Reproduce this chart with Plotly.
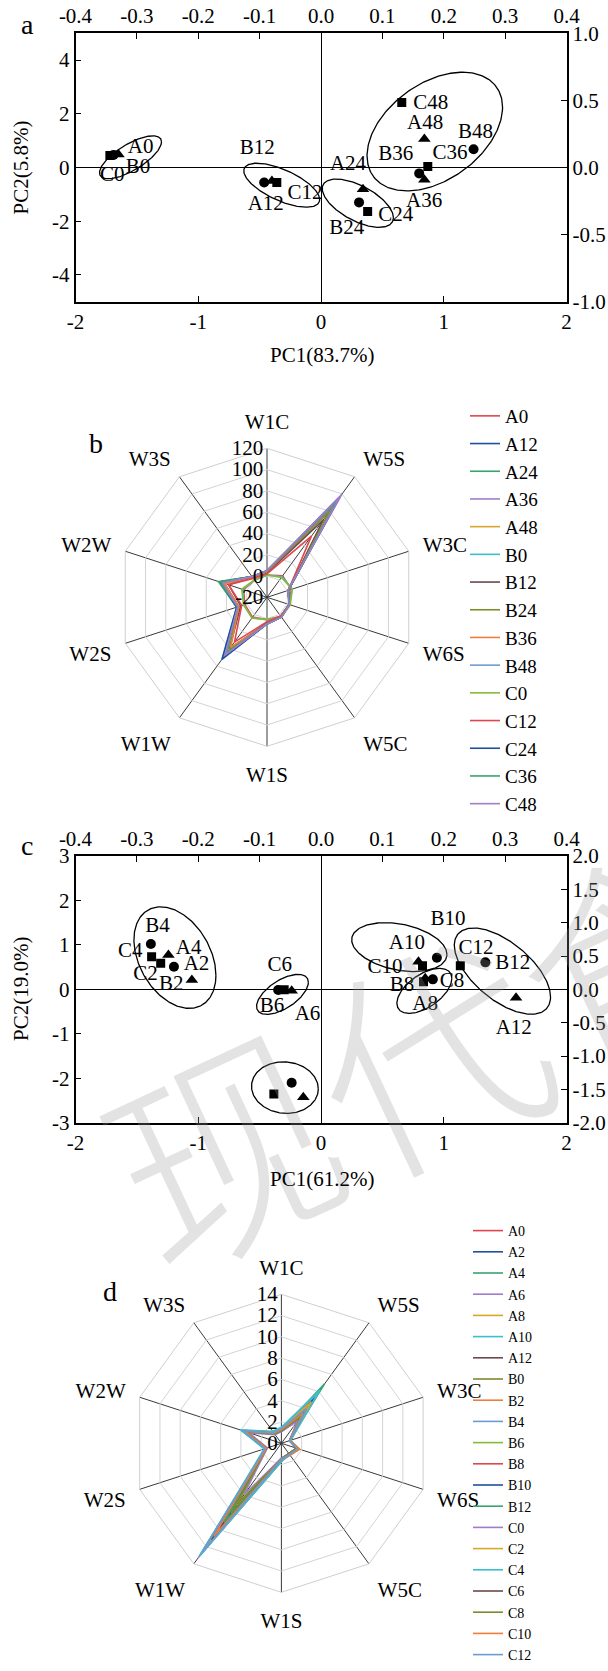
import numpy as np
import plotly.graph_objects as go

FONT = "Liberation Serif, Times New Roman, Times, serif"
W, H = 608, 1671

# ---------------- panel a : PCA scores ----------------
a_names = ["A0", "B0", "C0", "A12", "B12", "C12", "A24", "B24", "C24",
           "A36", "B36", "C36", "A48", "B48", "C48"]
a_pc1 = [-1.65, -1.69, -1.72, -0.40, -0.463, -0.36, 0.342, 0.31, 0.38,
         0.842, 0.80, 0.87, 0.842, 1.243, 0.658]
a_pc2 = [0.48, 0.47, 0.45, -0.50, -0.56, -0.56, -0.81, -1.30, -1.64,
         -0.46, -0.22, 0.04, 1.06, 0.68, 2.42]
a_label_text = a_names
a_label_x = [-1.47, -1.49, -1.70, -0.45, -0.52, -0.13, 0.22, 0.21, 0.61,
             0.84, 0.61, 1.05, 0.848, 1.258, 0.895]
a_label_y = [0.75, 0.0, -0.31, -1.39, 0.68, -0.97, 0.12, -2.30, -1.80,
             -1.28, 0.46, 0.50, 1.64, 1.30, 2.36]
a_ell_cx = [-1.552, -0.32, 0.30, 0.927]
a_ell_cy = [0.38, -0.66, -1.33, 1.34]
a_ell_rx = [0.2526, 0.309, 0.29, 0.552]
a_ell_ry = [0.80, 0.82, 0.90, 2.21]
a_ell_rho = [0.72, -0.65, -0.60, 0.41]

a_x_ticks = [-2, -1, 0, 1, 2]
a_x_ticktext = ["-2", "-1", "0", "1", "2"]
a_y_ticks = [-4, -2, 0, 2, 4]
a_y_ticktext = ["-4", "-2", "0", "2", "4"]
top_ticks = [-0.4, -0.3, -0.2, -0.1, 0.0, 0.1, 0.2, 0.3, 0.4]
top_ticktext = ["-0.4", "-0.3", "-0.2", "-0.1", "0.0", "0.1", "0.2", "0.3", "0.4"]
a_right_ticks = [-1.0, -0.5, 0.0, 0.5, 1.0]
a_right_ticktext = ["-1.0", "-0.5", "0.0", "0.5", "1.0"]

# ---------------- panel b : radar ----------------
sensors = ["W1C", "W5S", "W3C", "W6S", "W5C", "W1S", "W1W", "W2S", "W2W", "W3S"]
b_A0 = [1, 5, 4, 2, 2, 1, 3, 2, 3, 0]
b_A12 = [3, 85, 1, 2, 2, 4, 50, 8, 22, 3]
b_A24 = [4, 90, 1, 2, 2, 5, 45, 10, 28, 4]
b_A36 = [5, 100, 0.5, 2, 3, 5, 48, 9, 24, 4]
b_A48 = [5, 93, 1, 2, 3, 5, 45, 9, 22, 4]
b_B0 = [1, 4, 5, 2, 3, 1, 4, 3, 4, 0]
b_B12 = [3, 70, 1, 2, 2, 4, 40, 6, 18, 3]
b_B24 = [4, 80, 1, 2, 2, 5, 40, 8, 25, 4]
b_B36 = [4, 88, 1, 2, 2, 5, 38, 8, 22, 3]
b_B48 = [5, 90, 1, 2, 3, 5, 50, 10, 26, 4]
b_C0 = [1, 3, 5, 3, 3, 1, 4, 3, 5, 0]
b_C12 = [2, 51, 1, 2, 2, 3, 32, 5, 18, 2]
b_C24 = [5, 95, 1, 2, 3, 5, 52, 10, 26, 4]
b_C36 = [5, 92, 1, 2, 3, 5, 44, 9, 27, 4]
b_C48 = [5, 97, 0.5, 2, 3, 5, 47, 9, 24, 4]
b_names = ["A0", "A12", "A24", "A36", "A48", "B0", "B12", "B24", "B36", "B48",
           "C0", "C12", "C24", "C36", "C48"]
b_values = [b_A0, b_A12, b_A24, b_A36, b_A48, b_B0, b_B12, b_B24, b_B36, b_B48,
            b_C0, b_C12, b_C24, b_C36, b_C48]
b_r_ticks = [-20, 0, 20, 40, 60, 80, 100, 120]
b_r_ticktext = ["-20", "0", "20", "40", "60", "80", "100", "120"]

# ---------------- panel c : PCA scores ----------------
c_names = ["A0", "B0", "C0", "A2", "B2", "C2", "A4", "B4", "C4", "A6", "B6", "C6",
           "A8", "B8", "C8", "A10", "B10", "C10", "A12", "B12", "C12"]
c_pc1 = [-0.144, -0.239, -0.384, -1.052, -1.198, -1.306, -1.243, -1.386, -1.38,
         -0.239, -0.349, -0.30, 0.849, 0.911, 0.835, 0.794, 0.944, 0.827,
         1.589, 1.339, 1.135]
c_pc2 = [-2.43, -2.10, -2.355, 0.21, 0.51, 0.585, 0.77, 1.02, 0.733,
         -0.03, -0.016, -0.01, 0.25, 0.225, 0.17, 0.62, 0.71, 0.53,
         -0.19, 0.607, 0.53]
c_label_text = ["A2", "B2", "C2", "A4", "B4", "C4", "A6", "B6", "C6",
                "A8", "B8", "C8", "A10", "B10", "C10", "A12", "B12", "C12"]
c_label_x = [-1.014, -1.22, -1.43, -1.078, -1.332, -1.554, -0.11, -0.40, -0.335,
             0.849, 0.659, 1.067, 0.70, 1.034, 0.522, 1.57, 1.562, 1.263]
c_label_y = [0.547, 0.097, 0.32, 0.92, 1.41, 0.846, -0.58, -0.39, 0.52,
             -0.35, 0.08, 0.17, 1.035, 1.575, 0.495, -0.877, 0.577, 0.92]
c_ell_cx = [-1.19, -0.314, -0.294, 0.638, 0.842, 1.478]
c_ell_cy = [0.715, -0.113, -2.21, 0.95, -0.034, 0.41]
c_ell_rx = [0.334, 0.211, 0.272, 0.388, 0.224, 0.392]
c_ell_ry = [1.143, 0.45, 0.58, 0.55, 0.506, 0.97]
c_ell_rho = [-0.35, 0.6, -0.05, -0.3, 0.55, -0.6]

c_y_ticks = [-3, -2, -1, 0, 1, 2, 3]
c_y_ticktext = ["-3", "-2", "-1", "0", "1", "2", "3"]
c_right_ticks = [-2.0, -1.5, -1.0, -0.5, 0.0, 0.5, 1.0, 1.5, 2.0]
c_right_ticktext = ["-2.0", "-1.5", "-1.0", "-0.5", "0.0", "0.5", "1.0", "1.5", "2.0"]

# ---------------- panel d : radar ----------------
d_A0 = [1.2, 3.0, 0.8, 1.5, 1.2, 1.5, 9.5, 1.5, 3.5, 1.2]
d_A2 = [1.3, 5.5, 0.8, 1.6, 1.3, 1.6, 12.5, 1.6, 3.8, 1.2]
d_A4 = [1.3, 6.9, 0.8, 1.6, 1.3, 1.7, 13.0, 1.6, 4.0, 1.3]
d_A6 = [1.2, 4.5, 0.9, 1.6, 1.2, 1.6, 11.5, 1.5, 3.7, 1.2]
d_A8 = [1.1, 3.5, 0.8, 1.5, 1.2, 1.5, 10.0, 1.5, 3.5, 1.1]
d_A10 = [1.5, 4.0, 0.9, 1.5, 1.3, 1.6, 10.5, 1.6, 3.9, 1.3]
d_A12 = [1.2, 3.0, 0.8, 1.6, 1.2, 1.5, 9.0, 1.5, 3.4, 1.1]
d_B0 = [1.1, 2.8, 0.8, 1.5, 1.2, 1.4, 8.0, 1.4, 3.4, 1.1]
d_B2 = [1.4, 4.2, 0.9, 1.8, 1.4, 1.6, 12.0, 1.6, 3.8, 1.3]
d_B4 = [1.3, 6.0, 0.9, 1.6, 1.3, 1.7, 13.3, 1.6, 3.9, 1.3]
d_B6 = [1.2, 3.8, 0.8, 1.5, 1.2, 1.5, 11.0, 1.5, 3.6, 1.2]
d_B8 = [1.3, 3.4, 0.8, 1.7, 1.3, 1.5, 10.2, 1.5, 3.6, 1.2]
d_B10 = [1.2, 3.3, 0.8, 1.5, 1.2, 1.5, 9.8, 1.5, 3.5, 1.1]
d_B12 = [1.3, 3.1, 0.8, 1.6, 1.2, 1.5, 9.2, 1.5, 3.4, 1.1]
d_C0 = [1.1, 2.6, 0.8, 1.5, 1.2, 1.4, 6.0, 1.4, 3.2, 1.0]
d_C2 = [1.4, 4.8, 0.9, 1.7, 1.3, 1.6, 12.2, 1.6, 3.8, 1.3]
d_C4 = [1.5, 6.2, 0.9, 1.6, 1.3, 1.7, 12.8, 1.7, 4.0, 1.4]
d_C6 = [1.2, 3.9, 0.8, 1.6, 1.2, 1.5, 11.2, 1.5, 3.6, 1.2]
d_C8 = [1.2, 3.2, 0.8, 1.5, 1.2, 1.5, 7.0, 1.5, 3.5, 1.1]
d_C10 = [1.3, 3.5, 0.8, 1.8, 1.3, 1.5, 10.8, 1.5, 3.6, 1.2]
d_C12 = [1.4, 4.0, 0.8, 1.6, 1.3, 1.5, 12.6, 1.6, 3.8, 1.2]
d_names = ["A0", "A2", "A4", "A6", "A8", "A10", "A12", "B0", "B2", "B4", "B6",
           "B8", "B10", "B12", "C0", "C2", "C4", "C6", "C8", "C10", "C12"]
d_values = [d_A0, d_A2, d_A4, d_A6, d_A8, d_A10, d_A12, d_B0, d_B2, d_B4, d_B6,
            d_B8, d_B10, d_B12, d_C0, d_C2, d_C4, d_C6, d_C8, d_C10, d_C12]
d_r_ticks = [0, 2, 4, 6, 8, 10, 12, 14]
d_r_ticktext = ["0", "2", "4", "6", "8", "10", "12", "14"]

palette = ["#e0464e", "#1f4f9e", "#3aa36c", "#a07ccb", "#d9a52b", "#3dbfcb",
           "#6b4a4a", "#7f8a2b", "#f07d3a", "#6d9bd1", "#86bb37"]
symbol_of = {"A": "triangle-up", "B": "circle", "C": "square"}
size_of = {"A": 11, "B": 10, "C": 9}


def px(y_pixel):
    return 1 - y_pixel / H


fig = go.Figure()


def add_pca(names, pc1, pc2, ltext, lx, ly, ecx, ecy, erx, ery, erho, xa, ya):
    t = np.linspace(0, 2 * np.pi, 241)
    for cx, cy, rx, ry, rho in zip(ecx, ecy, erx, ery, erho):
        ex = cx + rx * np.cos(t)
        ey = cy + ry * (rho * np.cos(t) + np.sqrt(1 - rho ** 2) * np.sin(t))
        fig.add_trace(go.Scatter(x=ex, y=ey, mode="lines", xaxis=xa, yaxis=ya,
                                 line=dict(color="black", width=1.3),
                                 showlegend=False, hoverinfo="skip"))
    for letter in "ABC":
        idx = [i for i, n in enumerate(names) if n[0] == letter]
        fig.add_trace(go.Scatter(
            x=[pc1[i] for i in idx], y=[pc2[i] for i in idx], mode="markers",
            xaxis=xa, yaxis=ya, text=[names[i] for i in idx],
            marker=dict(symbol=symbol_of[letter], size=size_of[letter], color="black"),
            showlegend=False))
    fig.add_trace(go.Scatter(x=lx, y=ly, text=ltext, mode="text", xaxis=xa, yaxis=ya,
                             textfont=dict(family=FONT, size=21, color="black"),
                             showlegend=False, hoverinfo="skip"))


add_pca(a_names, a_pc1, a_pc2, a_label_text, a_label_x, a_label_y,
        a_ell_cx, a_ell_cy, a_ell_rx, a_ell_ry, a_ell_rho, "x", "y")
add_pca(c_names, c_pc1, c_pc2, c_label_text, c_label_x, c_label_y,
        c_ell_cx, c_ell_cy, c_ell_rx, c_ell_ry, c_ell_rho, "x3", "y3")
# empty traces to activate secondary axes
for xa, ya in (("x2", "y2"), ("x4", "y4")):
    fig.add_trace(go.Scatter(x=[None], y=[None], xaxis=xa, yaxis=ya,
                             showlegend=False, hoverinfo="skip"))

for i, (name, vals) in enumerate(zip(b_names, b_values)):
    fig.add_trace(go.Scatterpolar(
        r=vals + [vals[0]], theta=sensors + [sensors[0]], mode="lines", name=name,
        line=dict(color=palette[i % len(palette)], width=1.6),
        subplot="polar", legend="legend"))
for i, (name, vals) in enumerate(zip(d_names, d_values)):
    fig.add_trace(go.Scatterpolar(
        r=vals + [vals[0]], theta=sensors + [sensors[0]], mode="lines", name=name,
        line=dict(color=palette[i % len(palette)], width=1.6),
        subplot="polar2", legend="legend2"))

TICKFONT = dict(family=FONT, size=21, color="black")
ax = dict(showline=True, linecolor="black", linewidth=1.5, ticks="inside", ticklen=6,
          tickwidth=1.2, tickcolor="black", showgrid=False, fixedrange=True,
          tickfont=TICKFONT, automargin=False)
xdom = [75.5 / W, 566.5 / W]
a_ydom = [px(301.7), px(33.3)]
c_ydom = [px(1122.7), px(856.0)]

layout_axes = dict(
    xaxis=dict(ax, domain=xdom, range=[-2, 2], tickvals=a_x_ticks, ticktext=a_x_ticktext,
               anchor="y", zeroline=True, zerolinecolor="black", zerolinewidth=1),
    yaxis=dict(ax, domain=a_ydom, range=[-5, 5], tickvals=a_y_ticks, ticktext=a_y_ticktext,
               anchor="x", zeroline=True, zerolinecolor="black", zerolinewidth=1),
    xaxis2=dict(ax, domain=xdom, range=[-0.4, 0.4], tickvals=top_ticks, ticktext=top_ticktext,
                anchor="y", overlaying="x", side="top", zeroline=False),
    yaxis2=dict(ax, domain=a_ydom, range=[-1, 1], tickvals=a_right_ticks,
                ticktext=a_right_ticktext, anchor="x", overlaying="y", side="right",
                zeroline=False),
    xaxis3=dict(ax, domain=xdom, range=[-2, 2], tickvals=a_x_ticks, ticktext=a_x_ticktext,
                anchor="y3", zeroline=True, zerolinecolor="black", zerolinewidth=1),
    yaxis3=dict(ax, domain=c_ydom, range=[-3, 3], tickvals=c_y_ticks, ticktext=c_y_ticktext,
                anchor="x3", zeroline=True, zerolinecolor="black", zerolinewidth=1),
    xaxis4=dict(ax, domain=xdom, range=[-0.4, 0.4], tickvals=top_ticks, ticktext=top_ticktext,
                anchor="y3", overlaying="x3", side="top", zeroline=False),
    yaxis4=dict(ax, domain=c_ydom, range=[-2, 2], tickvals=c_right_ticks,
                ticktext=c_right_ticktext, anchor="x3", overlaying="y3", side="right",
                zeroline=False),
)


def polar_cfg(cx, cy, r, rrange, rticks, rtext):
    return dict(
        domain=dict(x=[(cx - r) / W, (cx + r) / W], y=[px(cy + r), px(cy - r)]),
        bgcolor="white", gridshape="linear",
        angularaxis=dict(direction="clockwise", rotation=90, categoryorder="array",
                         categoryarray=sensors, showline=True, linecolor="#cfcfcf",
                         linewidth=1, gridcolor="#3a3a3a", gridwidth=1,
                         ticks="outside", ticklen=10, tickcolor="rgba(0,0,0,0)",
                         tickfont=TICKFONT),
        radialaxis=dict(range=rrange, tickvals=rticks, ticktext=rtext, angle=90,
                        tickangle=90, side="counterclockwise", showline=False, ticks="",
                        gridcolor="#d4d4d4", gridwidth=1, tickfont=TICKFONT),
    )


annotations = []


def note(text, x, y, size=21, angle=0, **kw):
    annotations.append(dict(text=text, x=x / W, y=px(y), xref="paper", yref="paper",
                            showarrow=False, textangle=angle,
                            font=dict(family=FONT, size=size, color="black"),
                            xanchor="center", yanchor="middle", **kw))


# watermark (drawn first so it sits under the other notes)
annotations.append(dict(text="现代食品科技", x=732 / W, y=px(902), xref="paper",
                        yref="paper", showarrow=False, textangle=-25,
                        font=dict(family="Noto Sans CJK SC", size=226, weight=300,
                                  color="rgba(150,150,150,0.27)"),
                        xanchor="center", yanchor="middle"))
note("a", 27, 25, size=28)
note("b", 95.5, 443, size=28)
note("c", 27.3, 845, size=28)
note("d", 110, 1291.7, size=28)
note("PC2(5.8%)", 21, 167.5, angle=-90)
note("PC1(83.7%)", 322, 355)
note("PC2(19.0%)", 21, 989, angle=-90)
note("PC1(61.2%)", 322, 1179)

fig.update_layout(
    width=W, height=H, margin=dict(l=0, r=0, t=0, b=0, autoexpand=False),
    paper_bgcolor="white", plot_bgcolor="white",
    font=dict(family=FONT, size=21, color="black"),
    showlegend=True,
    polar=polar_cfg(267, 597.3, 149, [-20, 120], b_r_ticks, b_r_ticktext),
    polar2=polar_cfg(281.4, 1443.3, 149, [0, 14], d_r_ticks, d_r_ticktext),
    legend=dict(x=465 / W, y=px(397), xanchor="left", yanchor="top",
                bgcolor="rgba(0,0,0,0)", font=dict(family=FONT, size=19),
                itemwidth=30, tracegroupgap=0),
    legend2=dict(x=468 / W, y=0, xanchor="left", yanchor="bottom",
                 bgcolor="rgba(0,0,0,0)", font=dict(family=FONT, size=14),
                 itemwidth=30, tracegroupgap=0),
    annotations=annotations,
    **layout_axes,
)

fig.write_html("out.html")
